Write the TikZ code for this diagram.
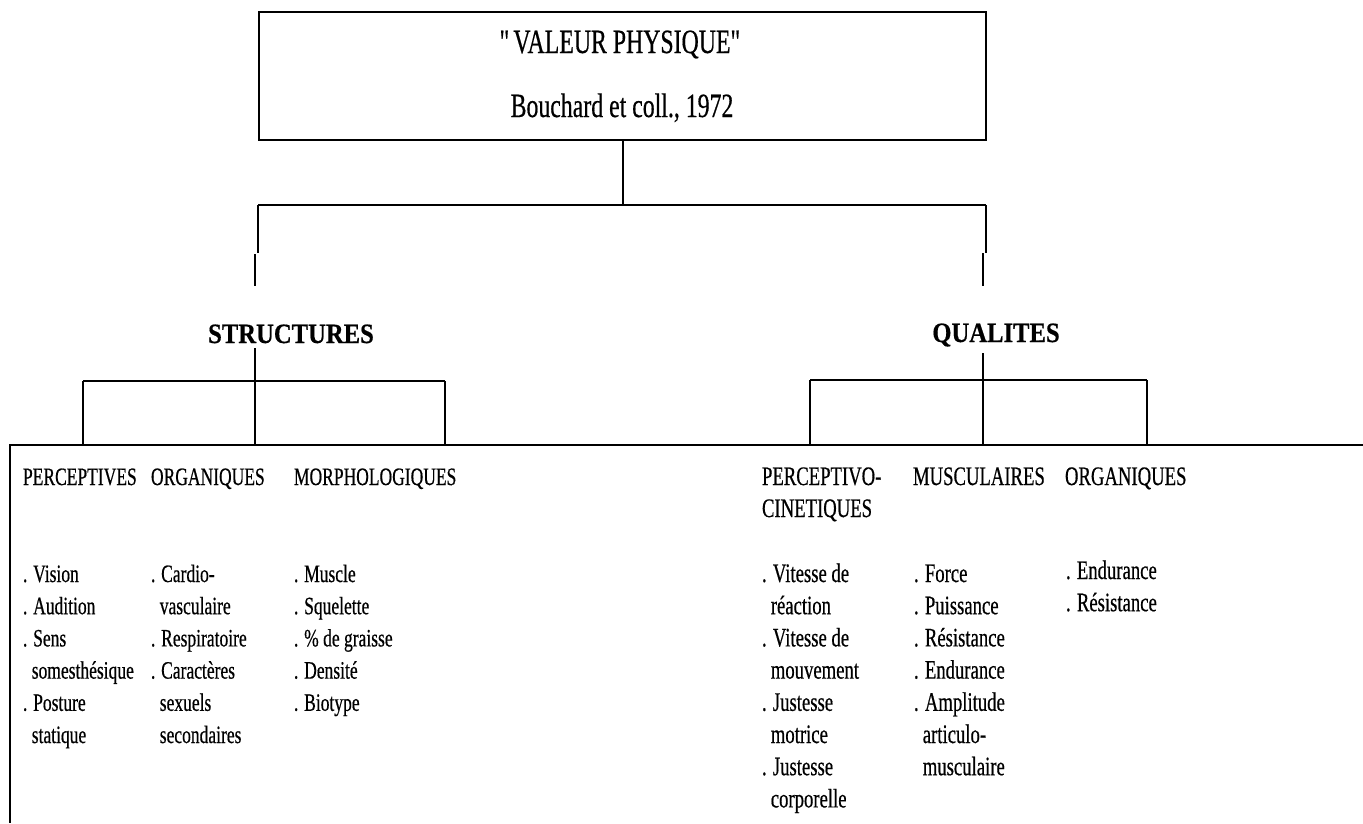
\documentclass[tikz,border=0pt]{standalone}
\usepackage{fontspec}
\setmainfont{Liberation Serif}[FakeStretch=0.7,FakeBold=0.5]
\newfontfamily\headfont{Liberation Serif}[FakeStretch=0.88,FakeBold=0.5]
\newcommand\contind{\hspace*{8.8pt}}
\begin{document}
\begin{tikzpicture}[x=1pt,y=-1pt,line width=2pt,
  txt/.style={inner sep=0pt,anchor=base west,font=\fontsize{25}{30}\selectfont},
  txtr/.style={inner sep=0pt,anchor=base west,font=\fontsize{26.7}{32}\selectfont},
  titletxt/.style={inner sep=0pt,anchor=base,font=\fontsize{34}{40}\selectfont},
  head/.style={inner sep=0pt,anchor=base,font=\headfont\bfseries\fontsize{28}{34}\selectfont},
  frame/.style={draw,line width=2pt,inner sep=0pt}]

\useasboundingbox (0,0) rectangle (1363,823);

% title box
\node[frame,minimum width=727pt,minimum height=128pt] (top) at (622.5,76) {};
\node[titletxt] (t1) at (622,53) {\textquotedbl VALEUR PHYSIQUE\textquotedbl};
\node[titletxt] (t2) at (622,117) {Bouchard et coll., 1972};

% first level bracket
\coordinate (j0) at (622.5,205);
\coordinate (jl) at (258,205);
\coordinate (jr) at (986,205);
\coordinate (jl1) at (258,253);
\coordinate (jl2) at (255,254);
\coordinate (jl3) at (255,286);
\coordinate (jr1) at (986,253);
\coordinate (jr2) at (983,253);
\coordinate (jr3) at (983,286);
\draw (top.south) -- (j0);
\draw (jl) -- (jr);
\draw (jl) -- (jl1);
\draw (jl2) -- (jl3);
\draw (jr) -- (jr1);
\draw (jr2) -- (jr3);

% second level headings
\node[head] (st) at (291,343) {STRUCTURES};
\node[head] (qu) at (996,342) {QUALITES};

% bracket under STRUCTURES
\coordinate (s0) at (255,348);
\coordinate (s1) at (255,445);
\coordinate (sl) at (83,381);
\coordinate (sr) at (445,381);
\coordinate (sl1) at (83,445);
\coordinate (sr1) at (445,445);
\draw (s0) -- (s1);
\draw (sl) -- (sr);
\draw (sl) -- (sl1);
\draw (sr) -- (sr1);

% bracket under QUALITES
\coordinate (q0) at (983,353);
\coordinate (q1) at (983,445);
\coordinate (ql) at (810,380);
\coordinate (qr) at (1147,380);
\coordinate (ql1) at (810,445);
\coordinate (qr1) at (1147,445);
\draw (q0) -- (q1);
\draw (ql) -- (qr);
\draw (ql) -- (ql1);
\draw (qr) -- (qr1);

% lower frame
\coordinate (bR) at (1363,445);
\coordinate (bTL) at (10,445);
\coordinate (bBL) at (10,823);
\draw (bR) -- (bTL) -- (bBL);

% column headings
\node[txt] (h1) at (22,485) {PERCEPTIVES};
\node[txt] (h2) at (150,485) {ORGANIQUES};
\node[txt] (h3) at (293,485) {MORPHOLOGIQUES};
\node[txtr] (h4) at (761,485) {PERCEPTIVO-};
\node[txtr] (h4b) at (761,517) {CINETIQUES};
\node[txtr] (h5) at (912,485) {MUSCULAIRES};
\node[txtr] (h6) at (1064,485) {ORGANIQUES};

% column items
\foreach [count=\i from 0] \t in {{. Vision},{. Audition},{. Sens},{\contind somesthésique},{. Posture},{\contind statique}}
  \node[txt] (c1-\i) at (22,582+32.2*\i) {\t};
\foreach [count=\i from 0] \t in {{. Cardio-},{\contind vasculaire},{. Respiratoire},{. Caractères},{\contind sexuels},{\contind secondaires}}
  \node[txt] (c2-\i) at (150,582+32.2*\i) {\t};
\foreach [count=\i from 0] \t in {{. Muscle},{. Squelette},{. \% de graisse},{. Densité},{. Biotype}}
  \node[txt] (c3-\i) at (293,582+32.2*\i) {\t};
\foreach [count=\i from 0] \t in {{. Vitesse de},{\contind réaction},{. Vitesse de},{\contind mouvement},{. Justesse},{\contind motrice},{. Justesse},{\contind corporelle}}
  \node[txtr] (c4-\i) at (761,582+32.2*\i) {\t};
\foreach [count=\i from 0] \t in {{. Force},{. Puissance},{. Résistance},{. Endurance},{. Amplitude},{\contind articulo-},{\contind musculaire}}
  \node[txtr] (c5-\i) at (913,582+32.2*\i) {\t};
\foreach [count=\i from 0] \t in {{. Endurance},{. Résistance}}
  \node[txtr] (c6-\i) at (1065,579+32.2*\i) {\t};
\end{tikzpicture}
\end{document}
